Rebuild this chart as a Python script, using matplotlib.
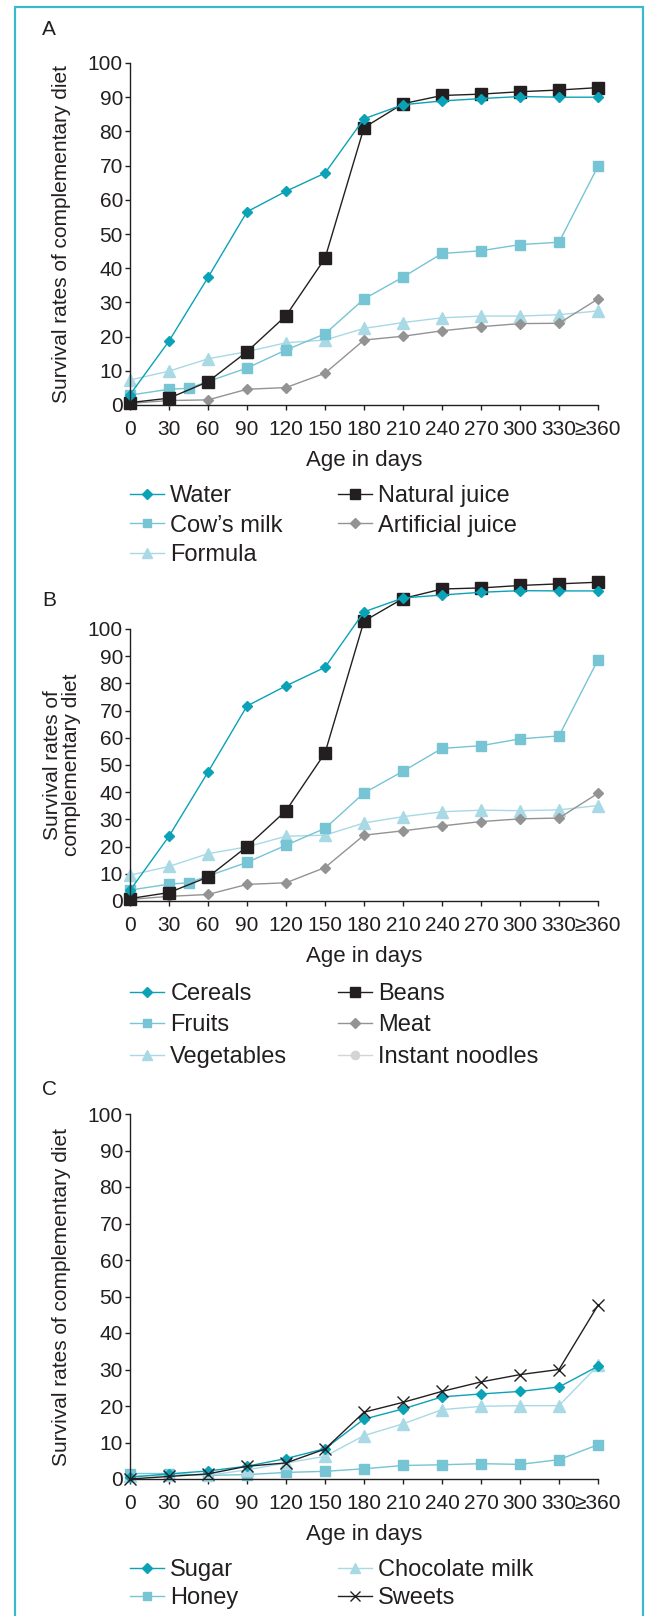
import matplotlib
matplotlib.use("Agg")
import matplotlib.pyplot as plt
from matplotlib.patches import Rectangle

plt.rcParams["font.family"] = ["Liberation Sans", "DejaVu Sans"]
plt.rcParams["font.size"] = 15
plt.rcParams["text.color"] = "#231f20"

W, H = 650, 1616

# x axis: age in days (categorical ticks every 30 days)
days = [0, 30, 60, 90, 120, 150, 180, 210, 240, 270, 300, 330, 360]
days_milk = [0, 30, 45, 90, 120, 150, 180, 210, 240, 270, 300, 330, 360]
day_labels = ["0", "30", "60", "90", "120", "150", "180", "210", "240",
              "270", "300", "330", "\u2265360"]

# panel A
water = [3.0, 18.7, 37.3, 56.5, 62.5, 67.8, 83.7, 87.8, 88.9, 89.6, 90.2, 90.0, 90.0]
natural_juice = [0.7, 2.0, 6.8, 15.6, 26.1, 42.9, 81.1, 88.1, 90.5, 90.9, 91.6, 92.1, 92.8]
cows_milk = [2.9, 4.6, 4.9, 10.8, 16.1, 20.8, 31.0, 37.4, 44.3, 45.1, 46.9, 47.6, 69.8]
artificial_juice = [0.5, 1.3, 1.5, 4.6, 5.1, 9.3, 19.0, 20.1, 21.7, 22.9, 23.8, 23.9, 31.0]
formula = [7.3, 9.9, 13.5, 15.6, 18.2, 19.0, 22.4, 24.1, 25.5, 26.0, 26.0, 26.4, 27.5]

# panel B
cereals = [3.9, 23.8, 47.4, 71.7, 79.1, 85.9, 106.3, 111.4, 112.5, 113.5, 114.1, 114.0, 114.0]
beans = [0.9, 3.1, 8.8, 20.0, 33.2, 54.4, 102.9, 111.2, 114.7, 115.1, 116.0, 116.6, 117.2]
fruits = [4.0, 6.2, 6.7, 14.2, 20.5, 26.7, 39.7, 47.7, 56.1, 57.1, 59.6, 60.7, 88.7]
meat = [0.6, 1.7, 2.4, 6.1, 6.7, 12.3, 24.2, 25.8, 27.6, 29.2, 30.2, 30.5, 39.6]
vegetables = [9.5, 12.7, 17.4, 19.9, 23.8, 24.2, 28.7, 31.0, 32.8, 33.4, 33.2, 33.5, 35.1]
instant_noodles = []

# panel C
sugar = [0.5, 1.4, 2.2, 3.5, 5.6, 8.3, 16.4, 19.2, 22.5, 23.3, 24.0, 25.2, 30.9]
honey = [1.5, 1.5, 1.0, 1.2, 1.8, 2.1, 2.8, 3.7, 3.9, 4.2, 4.0, 5.3, 9.4]
chocolate_milk = [0.8, 1.0, 1.0, 2.5, 4.4, 6.2, 11.9, 15.1, 19.0, 19.9, 20.1, 20.1, 31.1]
sweets = [0.0, 0.7, 1.4, 3.5, 4.4, 8.2, 18.3, 21.0, 24.0, 26.6, 28.6, 30.0, 47.6]

TEAL = "#0aa2b7"
BLACK = "#231f20"
MID = "#76c4d4"
GREY = "#939393"
PALE = "#a8d9e4"
LIGHTGREY = "#d4d4d4"
BORDER = "#3cb9cd"

st_teal = dict(color=TEAL, marker="D", ms=5.5, lw=1.0)
st_black = dict(color=BLACK, marker="s", ms=8, lw=1.0)
st_mid = dict(color=MID, marker="s", ms=7.5, lw=1.0)
st_grey = dict(color=GREY, marker="D", ms=5.5, lw=1.0)
st_pale = dict(color=PALE, marker="^", ms=8, lw=1.0)
st_noodle = dict(color=LIGHTGREY, marker="o", ms=7, lw=1.0)
st_cross = dict(color=BLACK, marker="x", ms=8, mew=1.0, lw=1.0)


def fig_rect(left, right, top, bottom):
    return [left / W, 1 - bottom / H, (right - left) / W, (bottom - top) / H]


def style_axes(ax):
    ax.set_xlim(0, 360)
    ax.set_ylim(0, 100)
    ax.set_xticks(days)
    ax.set_xticklabels(day_labels)
    ax.set_yticks(range(0, 101, 10))
    for s in ["top", "right"]:
        ax.spines[s].set_visible(False)
    for s in ["left", "bottom"]:
        ax.spines[s].set_color(BLACK)
        ax.spines[s].set_linewidth(1.0)
    ax.tick_params(axis="both", length=3.6, width=1.0, color=BLACK,
                   labelcolor=BLACK, labelsize=15)
    ax.tick_params(axis="x", pad=7.5)
    ax.tick_params(axis="y", pad=1.5)
    ax.set_xlabel("Age in days", labelpad=7.5, color=BLACK, fontsize=16)
    ax.patch.set_alpha(0)


def add_legend(fig, handles, labels, x, y_top, spacing):
    leg = fig.legend(handles, labels, loc="upper left",
                     bbox_to_anchor=(x / W, 1 - y_top / H),
                     frameon=False, borderpad=0, borderaxespad=0,
                     handlelength=1.44, handletextpad=0.27,
                     labelspacing=spacing, markerscale=0.85, numpoints=1,
                     fontsize=17)
    for t in leg.get_texts():
        t.set_color(BLACK)
    return leg


fig = plt.figure(figsize=(W / 100, H / 100), dpi=100)

# outer frame (open at the bottom)
fig.patches.append(Rectangle((15 / W, -0.05), (643 - 15) / W, 1.05 - 7 / H,
                             transform=fig.transFigure, fill=False,
                             edgecolor=BORDER, lw=1.6))

# ---- A ----
axA = fig.add_axes(fig_rect(130, 598, 63, 405))
la = []
la.append(axA.plot(days, formula, label="Formula", clip_on=False, **st_pale)[0])
la.append(axA.plot(days, artificial_juice, label="Artificial juice", clip_on=False, **st_grey)[0])
la.append(axA.plot(days_milk, cows_milk, label="Cow\u2019s milk", clip_on=False, **st_mid)[0])
la.append(axA.plot(days, natural_juice, label="Natural juice", clip_on=False, **st_black)[0])
la.append(axA.plot(days, water, label="Water", clip_on=False, **st_teal)[0])
style_axes(axA)
axA.set_ylabel("Survival rates of complementary diet", va="center", color=BLACK)
axA.yaxis.set_label_coords(-0.147, 0.5)
fig.text(42 / W, 1 - 35 / H, "A", fontsize=15, va="baseline")
add_legend(fig, [la[4], la[2], la[0]], ["Water", "Cow\u2019s milk", "Formula"], 130, 485, 0.32)
add_legend(fig, [la[3], la[1]], ["Natural juice", "Artificial juice"], 338, 485, 0.32)

# ---- B ----
axB = fig.add_axes(fig_rect(130, 598, 629, 901))
lb = []
lb.append(axB.plot(days, vegetables, label="Vegetables", clip_on=False, **st_pale)[0])
lb.append(axB.plot(days, meat, label="Meat", clip_on=False, **st_grey)[0])
lb.append(axB.plot(days_milk, fruits, label="Fruits", clip_on=False, **st_mid)[0])
lb.append(axB.plot(days, beans, label="Beans", clip_on=False, **st_black)[0])
lb.append(axB.plot(days, cereals, label="Cereals", clip_on=False, **st_teal)[0])
lb.append(axB.plot(days[:len(instant_noodles)], instant_noodles,
                   label="Instant noodles", **st_noodle)[0])
style_axes(axB)
axB.set_ylabel("Survival rates of\ncomplementary diet", va="center",
               linespacing=1.0, color=BLACK)
axB.yaxis.set_label_coords(-0.145, 0.5)
fig.text(42 / W, 1 - 606 / H, "B", fontsize=15, va="baseline")
add_legend(fig, [lb[4], lb[2], lb[0]], ["Cereals", "Fruits", "Vegetables"], 130, 983, 0.40)
add_legend(fig, [lb[3], lb[1], lb[5]], ["Beans", "Meat", "Instant noodles"], 338, 983, 0.40)

# ---- C ----
axC = fig.add_axes(fig_rect(130, 598, 1114, 1479))
lc = []
lc.append(axC.plot(days, honey, label="Honey", clip_on=False, **st_mid)[0])
lc.append(axC.plot(days, chocolate_milk, label="Chocolate milk", clip_on=False, **st_pale)[0])
lc.append(axC.plot(days, sugar, label="Sugar", clip_on=False, **st_teal)[0])
lc.append(axC.plot(days, sweets, label="Sweets", clip_on=False, **st_cross)[0])
style_axes(axC)
axC.set_ylabel("Survival rates of complementary diet", va="center", color=BLACK)
axC.yaxis.set_label_coords(-0.147, 0.5)
fig.text(42 / W, 1 - 1095 / H, "C", fontsize=15, va="baseline")
add_legend(fig, [lc[2], lc[0]], ["Sugar", "Honey"], 130, 1559, 0.27)
add_legend(fig, [lc[1], lc[3]], ["Chocolate milk", "Sweets"], 338, 1559, 0.27)

fig.savefig("out.png", dpi=100)
